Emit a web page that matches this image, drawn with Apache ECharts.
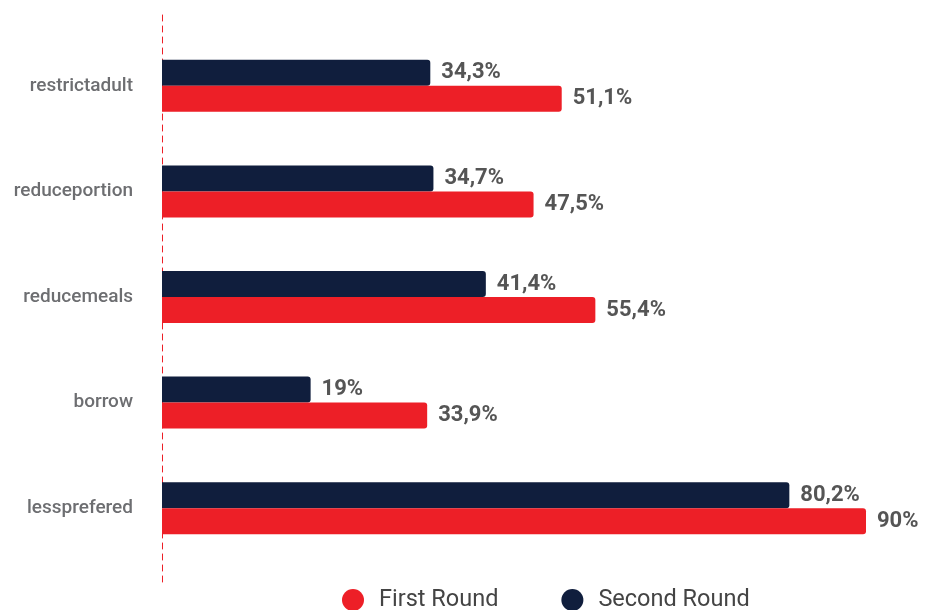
<!DOCTYPE html>
<html>
<head>
<meta charset="utf-8">
<style>
  html, body { margin: 0; padding: 0; background: #ffffff; }
  #chart { width: 931px; height: 610px; }
</style>
<script src="https://cdn.jsdelivr.net/npm/echarts@6/dist/echarts.min.js"></script>
</head>
<body>
<div id="chart"></div>
<script>
// Coping strategies, share of households per round
const categories = ['restrictadult', 'reduceportion', 'reducemeals', 'borrow', 'lessprefered'];
const firstRound = [51.1, 47.5, 55.4, 33.9, 90];
const secondRound = [34.3, 34.7, 41.4, 19, 80.2];

const RED = '#ed1f27';
const NAVY = '#101e3d';

const chart = echarts.init(document.getElementById('chart'), null, { renderer: 'canvas' });

const valueLabel = {
  show: true,
  position: 'right',
  distance: 11,
  fontFamily: 'Roboto',
  fontWeight: 'bold',
  fontSize: 22,
  color: '#555555',
  formatter: p => String(p.value).replace('.', ',') + '%'
};

chart.setOption({
  animation: false,
  textStyle: { fontFamily: 'Roboto' },
  legend: {
    top: 588,
    left: 342,
    padding: 0,
    itemWidth: 22,
    itemHeight: 22,
    itemGap: 63,
    icon: 'circle',
    data: ['First Round', 'Second Round'],
    textStyle: { fontSize: 23.5, color: '#444444', padding: [0, 0, 0, 10] }
  },
  grid: [
    { left: 162, top: 33, width: 704, height: 528 },
    { left: 162, top: 12, width: 1, height: 570 }
  ],
  xAxis: [
    { gridIndex: 0, type: 'value', min: 0, max: 90, show: false },
    { gridIndex: 1, type: 'value', show: false }
  ],
  yAxis: [
    {
      gridIndex: 0,
      type: 'category',
      data: categories,
      inverse: true,
      axisLine: { show: false },
      axisTick: { show: false },
      axisLabel: { margin: 29, fontSize: 19, fontWeight: 500, color: '#6d6e71' }
    },
    {
      gridIndex: 1,
      type: 'value',
      axisLine: { show: true, lineStyle: { color: RED, type: [6, 5], width: 1 } },
      axisTick: { show: false },
      axisLabel: { show: false },
      splitLine: { show: false }
    }
  ],
  series: [
    {
      name: 'Second Round',
      type: 'bar',
      data: secondRound,
      barWidth: 26,
      barGap: '0%',
      itemStyle: { color: NAVY, borderRadius: [0, 3, 3, 0] },
      label: valueLabel
    },
    {
      name: 'First Round',
      type: 'bar',
      data: firstRound,
      barWidth: 26,
      barGap: '0%',
      itemStyle: { color: RED, borderRadius: [0, 3, 3, 0] },
      label: valueLabel
    }
  ]
});
</script>
</body>
</html>
